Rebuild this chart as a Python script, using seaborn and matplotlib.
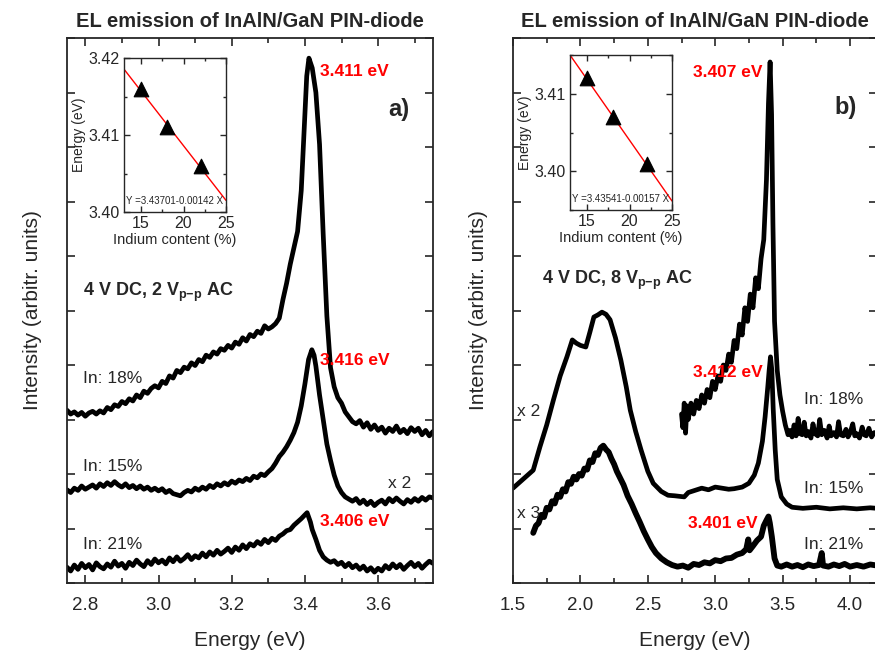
import numpy as np
import pandas as pd
import matplotlib
matplotlib.use("Agg")
import matplotlib.pyplot as plt
from matplotlib.ticker import MultipleLocator, NullFormatter
import seaborn as sns

# ---------------- data ----------------
# Panel a) 4 V DC, 2 Vp-p AC
a18_E = [2.75, 2.76, 2.77, 2.78, 2.79, 2.80, 2.81, 2.82, 2.83, 2.84, 2.85, 2.86, 2.87, 2.88, 2.89,
         2.90, 2.91, 2.92, 2.93, 2.94, 2.95, 2.96, 2.97, 2.98, 2.99, 3.00, 3.01, 3.02, 3.03, 3.04,
         3.05, 3.06, 3.07, 3.08, 3.09, 3.10, 3.11, 3.12, 3.13, 3.14, 3.15, 3.16, 3.17, 3.18, 3.19,
         3.20, 3.21, 3.22, 3.23, 3.24, 3.25, 3.26, 3.27, 3.28, 3.29, 3.30, 3.31, 3.32, 3.33, 3.34,
         3.35, 3.36, 3.37, 3.38, 3.39, 3.40, 3.405, 3.411, 3.42, 3.43, 3.44, 3.45, 3.46, 3.47, 3.48,
         3.49, 3.50, 3.51, 3.52, 3.53, 3.54, 3.55, 3.56, 3.57, 3.58, 3.59, 3.60, 3.61, 3.62, 3.63,
         3.64, 3.65, 3.66, 3.67, 3.68, 3.69, 3.70, 3.71, 3.72, 3.73, 3.74, 3.75]
a18_I = [3.17, 3.10, 3.14, 3.08, 3.13, 3.06, 3.12, 3.15, 3.10, 3.16, 3.12, 3.22, 3.18, 3.27, 3.24,
         3.33, 3.29, 3.38, 3.34, 3.45, 3.40, 3.52, 3.48, 3.57, 3.62, 3.58, 3.70, 3.66, 3.80, 3.76,
         3.90, 3.86, 3.96, 3.93, 4.04, 3.99, 4.10, 4.06, 4.18, 4.14, 4.24, 4.20, 4.30, 4.27, 4.36,
         4.31, 4.42, 4.38, 4.50, 4.44, 4.56, 4.52, 4.62, 4.58, 4.72, 4.66, 4.70, 4.76, 4.86, 5.20,
         5.50, 5.85, 6.15, 6.45, 7.20, 8.60, 9.30, 9.63, 9.45, 9.00, 8.05, 6.40, 4.90, 3.95, 3.60,
         3.40, 3.30, 3.14, 3.05, 2.96, 2.92, 2.98, 2.86, 2.94, 2.82, 2.90, 2.80, 2.86, 2.75, 2.84,
         2.78, 2.88, 2.76, 2.82, 2.74, 2.85, 2.78, 2.84, 2.72, 2.80, 2.70, 2.78]

a15_E = [2.75, 2.76, 2.77, 2.78, 2.79, 2.80, 2.81, 2.82, 2.83, 2.84, 2.85, 2.86, 2.87, 2.88, 2.89,
         2.90, 2.91, 2.92, 2.93, 2.94, 2.95, 2.96, 2.97, 2.98, 2.99, 3.00, 3.01, 3.02, 3.03, 3.04,
         3.05, 3.06, 3.07, 3.08, 3.09, 3.10, 3.11, 3.12, 3.13, 3.14, 3.15, 3.16, 3.17, 3.18, 3.19,
         3.20, 3.21, 3.22, 3.23, 3.24, 3.25, 3.26, 3.27, 3.28, 3.29, 3.30, 3.31, 3.32, 3.33, 3.34,
         3.35, 3.36, 3.37, 3.38, 3.39, 3.40, 3.41, 3.419, 3.425, 3.43, 3.44, 3.45, 3.46, 3.47, 3.48,
         3.49, 3.50, 3.51, 3.52, 3.53, 3.54, 3.55, 3.56, 3.57, 3.58, 3.59, 3.60, 3.61, 3.62, 3.63,
         3.64, 3.65, 3.66, 3.67, 3.68, 3.69, 3.70, 3.71, 3.72, 3.73, 3.74, 3.75]
a15_I = [1.71, 1.66, 1.74, 1.70, 1.78, 1.72, 1.76, 1.80, 1.74, 1.82, 1.77, 1.84, 1.79, 1.86, 1.80,
         1.76, 1.82, 1.75, 1.79, 1.73, 1.78, 1.72, 1.76, 1.70, 1.74, 1.69, 1.73, 1.66, 1.70, 1.64,
         1.62, 1.60, 1.66, 1.70, 1.67, 1.74, 1.70, 1.76, 1.72, 1.79, 1.75, 1.82, 1.78, 1.84, 1.80,
         1.87, 1.83, 1.89, 1.86, 1.92, 1.88, 1.96, 1.93, 2.00, 1.97, 2.04, 2.10, 2.20, 2.32, 2.40,
         2.50, 2.62, 2.76, 2.95, 3.25, 3.65, 4.10, 4.28, 4.18, 3.98, 3.45, 3.00, 2.55, 2.25, 1.98,
         1.78, 1.66, 1.58, 1.54, 1.50, 1.55, 1.46, 1.52, 1.44, 1.50, 1.42, 1.48, 1.52, 1.45, 1.55,
         1.49, 1.56, 1.50, 1.45, 1.53, 1.48, 1.55, 1.50, 1.57, 1.52, 1.58, 1.56]

a21_E = [2.75, 2.76, 2.77, 2.78, 2.79, 2.80, 2.81, 2.82, 2.83, 2.84, 2.85, 2.86, 2.87, 2.88, 2.89,
         2.90, 2.91, 2.92, 2.93, 2.94, 2.95, 2.96, 2.97, 2.98, 2.99, 3.00, 3.01, 3.02, 3.03, 3.04,
         3.05, 3.06, 3.07, 3.08, 3.09, 3.10, 3.11, 3.12, 3.13, 3.14, 3.15, 3.16, 3.17, 3.18, 3.19,
         3.20, 3.21, 3.22, 3.23, 3.24, 3.25, 3.26, 3.27, 3.28, 3.29, 3.30, 3.31, 3.32, 3.33, 3.34,
         3.35, 3.36, 3.37, 3.38, 3.39, 3.40, 3.406, 3.415, 3.42, 3.43, 3.44, 3.45, 3.46, 3.47, 3.48,
         3.49, 3.50, 3.51, 3.52, 3.53, 3.54, 3.55, 3.56, 3.57, 3.58, 3.59, 3.60, 3.61, 3.62, 3.63,
         3.64, 3.65, 3.66, 3.67, 3.68, 3.69, 3.70, 3.71, 3.72, 3.73, 3.74, 3.75]
a21_I = [0.29, 0.22, 0.33, 0.25, 0.36, 0.28, 0.34, 0.24, 0.37, 0.30, 0.26, 0.35, 0.29, 0.40, 0.31,
         0.36, 0.27, 0.38, 0.32, 0.42, 0.35, 0.30, 0.41, 0.34, 0.44, 0.37, 0.42, 0.35, 0.46, 0.39,
         0.48, 0.40, 0.45, 0.52, 0.43, 0.50, 0.46, 0.55, 0.48, 0.57, 0.51, 0.60, 0.53, 0.58, 0.64,
         0.56, 0.66, 0.60, 0.70, 0.63, 0.72, 0.68, 0.76, 0.71, 0.80, 0.74, 0.82, 0.78, 0.86, 0.90,
         0.96, 0.98, 1.06, 1.12, 1.18, 1.25, 1.29, 1.12, 0.98, 0.80, 0.60, 0.48, 0.42, 0.38, 0.41,
         0.34, 0.38, 0.30, 0.36, 0.28, 0.33, 0.25, 0.31, 0.22, 0.28, 0.20, 0.27, 0.22, 0.32, 0.26,
         0.35, 0.28, 0.34, 0.25, 0.32, 0.38, 0.30, 0.36, 0.27, 0.34, 0.40, 0.36]

# Panel b) 4 V DC, 8 Vp-p AC
b18_E = [2.75, 2.76, 2.77, 2.78, 2.79, 2.80, 2.82, 2.84, 2.86, 2.88, 2.90, 2.92, 2.94, 2.96, 2.98,
         3.00, 3.02, 3.04, 3.06, 3.08, 3.10, 3.12, 3.14, 3.16, 3.18, 3.20, 3.22, 3.24, 3.26, 3.28,
         3.30, 3.32, 3.34, 3.36, 3.38, 3.395, 3.407, 3.418, 3.428, 3.44, 3.46, 3.48, 3.50, 3.52, 3.54,
         3.555, 3.57, 3.585, 3.60, 3.615, 3.63, 3.645, 3.66, 3.675, 3.69, 3.71, 3.725, 3.74, 3.76,
         3.775, 3.79, 3.81, 3.83, 3.845, 3.86, 3.88, 3.90, 3.915, 3.93, 3.95, 3.97, 3.985, 4.00,
         4.02, 4.035, 4.05, 4.07, 4.09, 4.105, 4.12, 4.14, 4.16, 4.18, 4.20]
b18_I = [3.10, 2.85, 3.30, 2.75, 3.25, 3.00, 3.30, 3.10, 3.35, 3.20, 3.45, 3.30, 3.55, 3.40, 3.70,
         3.55, 3.80, 3.70, 4.00, 3.90, 4.20, 4.05, 4.45, 4.30, 4.75, 4.55, 5.05, 4.80, 5.30, 5.05,
         5.60, 5.40, 5.95, 6.30, 7.40, 8.80, 9.56, 8.60, 6.60, 4.80, 3.90, 3.45, 3.15, 2.90, 2.72,
         2.80, 2.68, 2.90, 2.70, 3.02, 2.74, 2.72, 2.95, 2.70, 2.78, 2.66, 2.92, 2.74, 2.70,
         3.00, 2.72, 2.80, 2.66, 2.88, 2.70, 2.76, 2.68, 2.96, 2.72, 2.70, 2.82, 2.68, 2.75,
         2.92, 2.70, 2.74, 2.66, 2.86, 2.72, 2.70, 2.84, 2.68, 2.76, 2.72]

b15_E = [1.50, 1.55, 1.60, 1.65, 1.70, 1.75, 1.80, 1.85, 1.90, 1.94, 1.97, 2.00, 2.04, 2.07, 2.10,
         2.13, 2.16, 2.19, 2.22, 2.26, 2.30, 2.34, 2.37, 2.41, 2.45, 2.50, 2.54, 2.60, 2.65, 2.70,
         2.77, 2.80, 2.85, 2.90, 2.95, 3.00, 3.05, 3.10, 3.14, 3.20, 3.25, 3.29, 3.32, 3.35, 3.37,
         3.39, 3.40, 3.41, 3.42, 3.43, 3.445, 3.46, 3.49, 3.53, 3.57, 3.65, 3.75, 3.85, 3.95, 4.05,
         4.15, 4.20]
b15_I = [1.74, 1.85, 1.96, 2.07, 2.50, 2.90, 3.36, 3.80, 4.15, 4.46, 4.40, 4.36, 4.33, 4.60, 4.88,
         4.92, 4.97, 4.93, 4.83, 4.50, 4.09, 3.60, 3.17, 2.78, 2.44, 2.05, 1.83, 1.68, 1.61, 1.60,
         1.58, 1.66, 1.70, 1.74, 1.71, 1.76, 1.74, 1.72, 1.73, 1.76, 1.83, 1.98, 2.20, 2.60, 3.05,
         3.60, 3.90, 4.15, 3.90, 3.20, 2.44, 1.90, 1.58, 1.45, 1.39, 1.37, 1.39, 1.36, 1.38, 1.36,
         1.38, 1.37]

b21_E = [1.65, 1.67, 1.69, 1.71, 1.73, 1.75, 1.77, 1.79, 1.81, 1.83, 1.85, 1.87, 1.89, 1.91, 1.93,
         1.95, 1.97, 1.99, 2.01, 2.03, 2.05, 2.07, 2.09, 2.11, 2.13, 2.15, 2.17, 2.19, 2.21, 2.23,
         2.25, 2.27, 2.30, 2.32, 2.35, 2.38, 2.41, 2.44, 2.47, 2.50, 2.53, 2.56, 2.60, 2.64, 2.68,
         2.72, 2.76, 2.80, 2.84, 2.88, 2.92, 2.96, 3.00, 3.04, 3.08, 3.12, 3.16, 3.20, 3.23, 3.245,
         3.255, 3.28, 3.31, 3.34, 3.36, 3.38, 3.395, 3.405, 3.42, 3.44, 3.46, 3.49, 3.53, 3.57, 3.61,
         3.65, 3.69, 3.73, 3.77, 3.79, 3.80, 3.84, 3.88, 3.92, 3.96, 4.00, 4.05, 4.10, 4.15, 4.20]
b21_I = [0.92, 1.05, 1.10, 1.25, 1.21, 1.38, 1.35, 1.50, 1.46, 1.62, 1.58, 1.72, 1.68, 1.85, 1.82,
         1.95, 1.90, 2.00, 1.97, 2.10, 2.08, 2.25, 2.22, 2.38, 2.35, 2.48, 2.52, 2.45, 2.40, 2.28,
         2.18, 2.05, 1.90, 1.80, 1.60, 1.45, 1.28, 1.12, 0.95, 0.80, 0.66, 0.55, 0.45, 0.38, 0.33,
         0.30, 0.32, 0.28, 0.35, 0.33, 0.38, 0.36, 0.42, 0.40, 0.45, 0.46, 0.52, 0.55, 0.62, 0.80,
         0.60, 0.68, 0.78, 0.85, 1.05, 1.15, 1.22, 1.10, 0.85, 0.45, 0.32, 0.30, 0.34, 0.30, 0.33,
         0.29, 0.34, 0.31, 0.33, 0.55, 0.32, 0.30, 0.34, 0.31, 0.35, 0.30, 0.33, 0.30, 0.34, 0.32]

# Insets: peak energy vs indium content
ins_x = [15, 18, 22]
ins_a_y = [3.416, 3.411, 3.406]
ins_b_y = [3.412, 3.407, 3.401]
fit_x = [13, 25]
fit_a_y = [3.43701 - 0.00142 * 13, 3.43701 - 0.00142 * 25]
fit_b_y = [3.43541 - 0.00157 * 13, 3.43541 - 0.00157 * 25]

# ---------------- style ----------------
sns.set_style("ticks")
plt.rcParams['font.family'] = ['Liberation Sans', 'DejaVu Sans']
plt.rcParams['mathtext.fontset'] = 'custom'
plt.rcParams['mathtext.rm'] = 'Liberation Sans'
plt.rcParams['mathtext.bf'] = 'Liberation Sans:bold'
plt.rcParams['axes.linewidth'] = 1.3

fig = plt.figure(figsize=(8.75, 6.51), dpi=100)
axA = fig.add_axes([67 / 875, 1 - 583 / 651, 366 / 875, 545 / 651])
axB = fig.add_axes([513 / 875, 1 - 583 / 651, 364 / 875, 545 / 651])

LW = 3.4


def curve(ax, E, I, lw=LW):
    df = pd.DataFrame({"E": E, "I": I})
    sns.lineplot(data=df, x="E", y="I", ax=ax, color="black", lw=lw,
                 sort=False, estimator=None, solid_joinstyle="round")


for ax in (axA, axB):
    ax.set_ylim(0, 10)
    ax.yaxis.set_major_locator(MultipleLocator(1))
    ax.yaxis.set_major_formatter(NullFormatter())
    ax.tick_params(axis="both", which="both", direction="in", top=True, right=True,
                   width=1.2, labelsize=13.5, pad=10)
    ax.tick_params(which="major", length=6)
    ax.tick_params(which="minor", length=3.5)
    ax.set_xlabel("Energy (eV)", fontsize=15, labelpad=12)
    ax.set_ylabel("Intensity (arbitr. units)", fontsize=15, labelpad=8)
    ax.set_title("EL emission of InAlN/GaN PIN-diode", fontsize=14.5,
                 fontweight="bold", pad=8)

curve(axA, a18_E, a18_I)
curve(axA, a15_E, a15_I)
curve(axA, a21_E, a21_I)
axA.set_xlim(2.75, 3.75)
axA.xaxis.set_major_locator(MultipleLocator(0.2))
axA.xaxis.set_minor_locator(MultipleLocator(0.1))
axA.xaxis.set_major_formatter(plt.FuncFormatter(lambda v, p: f"{v:.1f}"))

curve(axB, b18_E, b18_I)
curve(axB, b15_E, b15_I)
curve(axB, b21_E, b21_I, lw=4.2)
axB.set_xlim(1.5, 4.2)
axB.xaxis.set_major_locator(MultipleLocator(0.5))
axB.xaxis.set_minor_locator(MultipleLocator(0.25))
axB.xaxis.set_major_formatter(plt.FuncFormatter(lambda v, p: f"{v:.1f}"))

red = "#ff0000"
fs = 12.5
# panel a texts
axA.text(3.441, 9.38, "3.411 eV", color=red, fontsize=fs, fontweight="bold", va="center")
axA.text(3.441, 4.09, "3.416 eV", color=red, fontsize=fs, fontweight="bold", va="center")
axA.text(3.441, 1.12, "3.406 eV", color=red, fontsize=fs, fontweight="bold", va="center")
axA.text(3.627, 8.68, "a)", fontsize=17, fontweight="bold", va="center")
axA.text(2.794, 5.34, r"4 V DC, 2 V$_{\mathbf{p{-}p}}$ AC", fontsize=13,
         fontweight="bold", va="center")
axA.text(2.794, 3.76, "In: 18%", fontsize=12.5, va="center")
axA.text(2.794, 2.13, "In: 15%", fontsize=12.5, va="center")
axA.text(2.794, 0.70, "In: 21%", fontsize=12.5, va="center")
axA.text(3.627, 1.83, "x 2", fontsize=12.5, va="center")

# panel b texts
axB.text(2.836, 9.36, "3.407 eV", color=red, fontsize=fs, fontweight="bold", va="center")
axB.text(2.836, 3.87, "3.412 eV", color=red, fontsize=fs, fontweight="bold", va="center")
axB.text(2.80, 1.10, "3.401 eV", color=red, fontsize=fs, fontweight="bold", va="center")
axB.text(3.888, 8.73, "b)", fontsize=17, fontweight="bold", va="center")
axB.text(1.716, 5.56, r"4 V DC, 8 V$_{\mathbf{p{-}p}}$ AC", fontsize=13,
         fontweight="bold", va="center")
axB.text(3.657, 3.36, "In: 18%", fontsize=12.5, va="center")
axB.text(3.657, 1.74, "In: 15%", fontsize=12.5, va="center")
axB.text(3.657, 0.70, "In: 21%", fontsize=12.5, va="center")
axB.text(1.53, 3.14, "x 2", fontsize=12.5, va="center")
axB.text(1.53, 1.28, "x 3", fontsize=12.5, va="center")

# ---------------- insets ----------------
insA = fig.add_axes([124 / 875, 1 - 212 / 651, 102 / 875, 154 / 651])
insB = fig.add_axes([570 / 875, 1 - 210 / 651, 102 / 875, 155 / 651])


def inset(ax, ys, fy, ylim, eq):
    sns.lineplot(x=fit_x, y=fy, ax=ax, color="red", lw=1.0)
    sns.scatterplot(x=ins_x, y=ys, ax=ax, marker="^", s=110, color="black",
                    edgecolor="black", zorder=3)
    ax.set_xlim(13, 25)
    ax.set_ylim(*ylim)
    ax.xaxis.set_major_locator(MultipleLocator(5))
    ax.xaxis.set_minor_locator(MultipleLocator(2.5))
    ax.yaxis.set_major_locator(MultipleLocator(0.01))
    ax.yaxis.set_minor_locator(MultipleLocator(0.005))
    ax.yaxis.set_major_formatter(plt.FuncFormatter(lambda v, p: f"{v:.2f}"))
    ax.tick_params(axis="both", which="both", direction="in", top=True, right=True,
                   width=1.0, labelsize=11.5, pad=3)
    ax.tick_params(which="major", length=4)
    ax.tick_params(which="minor", length=2.5)
    for s in ax.spines.values():
        s.set_linewidth(1.0)
    ax.set_xlabel("Indium content (%)", fontsize=10.5, labelpad=1)
    ax.set_ylabel("Energy (eV)", fontsize=10, labelpad=2)
    ax.text(0.97, 0.04, eq, transform=ax.transAxes, fontsize=7, ha="right", va="bottom")


inset(insA, ins_a_y, fit_a_y, (3.40, 3.42), "Y =3.43701-0.00142 X")
inset(insB, ins_b_y, fit_b_y, (3.395, 3.415), "Y =3.43541-0.00157 X")

fig.savefig("out.png", dpi=100)
